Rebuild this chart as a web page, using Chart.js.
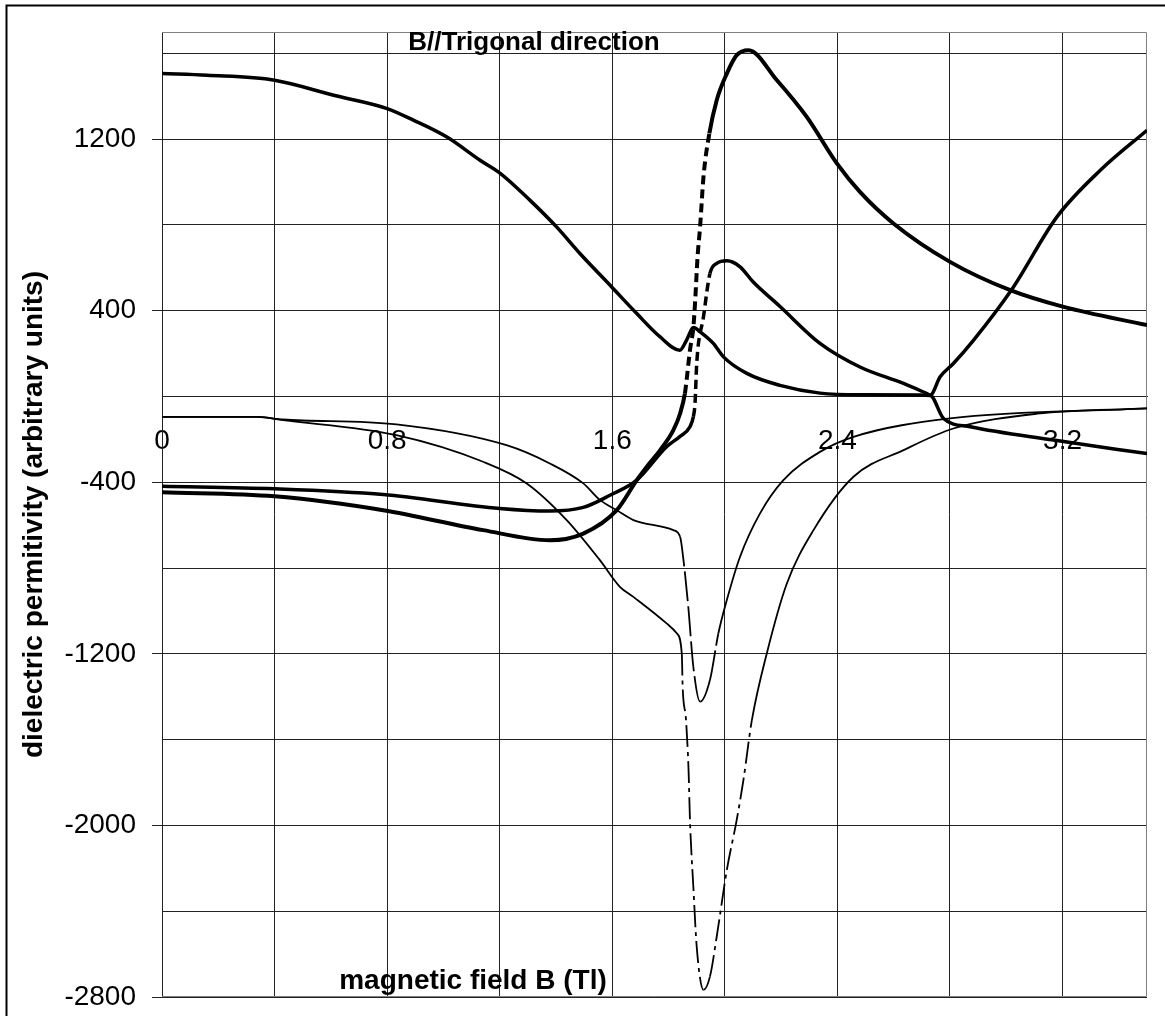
<!DOCTYPE html>
<html>
<head>
<meta charset="utf-8">
<script src="https://cdn.jsdelivr.net/npm/chart.js@4.4.1/dist/chart.umd.min.js"></script>
<style>
  html, body { margin: 0; padding: 0; background: #fff; overflow: hidden; }
  #wrap { position: relative; width: 1165px; height: 1016px; }
</style>
</head>
<body>
<div id="wrap"><canvas id="myChart"></canvas></div>
<script>
// values: magnetic field B (T) -> dielectric permittivity
const fieldA = [0, 0.16, 0.4, 0.61, 0.8, 0.893, 1.011, 1.13, 1.203, 1.307, 1.402, 1.485, 1.598, 1.687, 1.77, 1.84, 1.864, 1.888, 1.912, 1.959, 1.995, 2.078, 2.196, 2.338, 2.5, 2.694, 2.73, 2.777, 2.872, 3.168, 3.5];
const epsA = [1506, 1498, 1475, 1405, 1343, 1289, 1211, 1102, 1040, 916, 791, 667, 511, 387, 278, 216, 263, 322, 302, 248, 185, 108, 52, 16, 8, 7, 5, -102, -141, -203, -266];

const fieldB = [0, 0.4, 0.786, 1.141, 1.378, 1.497, 1.616, 1.687, 1.722, 1.77, 1.817, 1.841, 1.858, 1.864, 1.876, 1.888, 1.894, 1.903, 1.912, 1.924, 1.945, 1.971, 2.007, 2.042, 2.084, 2.185, 2.291, 2.398, 2.48, 2.599, 2.8, 3.014, 3.204, 3.5];
const epsB = [-446, -465, -530, -623, -670, -639, -530, -390, -328, -250, -157, -79, 14, 76, 216, 322, 434, 651, 791, 1024, 1227, 1382, 1506, 1592, 1615, 1475, 1304, 1087, 954, 807, 628, 496, 418, 333];

const fieldC = [0, 0.4, 0.786, 1.2, 1.378, 1.497, 1.592, 1.687, 1.793, 1.84, 1.876, 1.888, 1.894, 1.9, 1.924, 1.947, 1.971, 2.007, 2.054, 2.1, 2.196, 2.338, 2.48, 2.635, 2.718, 2.73, 2.765, 2.812, 2.884, 3.02, 3.18, 3.334, 3.5];
const epsC = [-418, -430, -457, -522, -534, -517, -460, -390, -234, -187, -141, -94, -32, 154, 372, 574, 621, 633, 605, 535, 420, 248, 138, 61, 14, 7, 92, 154, 263, 500, 838, 1055, 1242];

const fieldD = [0, 0.336, 0.43, 0.833, 1.224, 1.378, 1.497, 1.557, 1.616, 1.675, 1.817, 1.841, 1.853, 1.87, 1.888, 1.912, 1.947, 1.977, 2.007, 2.054, 2.125, 2.208, 2.338, 2.457, 2.8, 3.5];
const epsD = [-95, -95, -107, -130, -227, -312, -405, -483, -530, -576, -623, -654, -763, -980, -1260, -1423, -1322, -1104, -949, -747, -545, -390, -258, -188, -102, -55];

const fieldE = [0, 0.336, 0.43, 0.833, 1.141, 1.296, 1.438, 1.556, 1.627, 1.675, 1.793, 1.829, 1.847, 1.85, 1.862, 1.871, 1.876, 1.888, 1.9, 1.924, 1.947, 1.971, 2.007, 2.042, 2.066, 2.096, 2.149, 2.22, 2.315, 2.457, 2.635, 2.812, 3.109, 3.5];
const epsE = [-95, -95, -110, -180, -304, -405, -576, -763, -887, -934, -1058, -1104, -1198, -1353, -1509, -1742, -1975, -2286, -2566, -2767, -2705, -2519, -2208, -1975, -1788, -1509, -1198, -873, -623, -374, -250, -149, -80, -55];

const xTickLabels = ['0', '0.8', '1.6', '2.4', '3.2'];
const yTickLabels = [1200, 400, -400, -1200, -2000, -2800];
const yGridStep = 400;

const FONT = "'Liberation Sans', Arial, Helvetica, sans-serif";
Chart.defaults.font.family = FONT;
Chart.defaults.color = '#000';

function pts(xs, ys) {
    return xs.map((x, i) => ({ x: x, y: ys[i] }));
}

// steep parts of the traces look broken up in the original
const steep = ctx => Math.abs(ctx.p1.y - ctx.p0.y) > 5 * Math.abs(ctx.p1.x - ctx.p0.x);

function curve(xs, ys, width, dash) {
    return {
        data: pts(xs, ys),
        borderColor: '#000',
        borderWidth: width,
        pointRadius: 0,
        cubicInterpolationMode: 'monotone',
        segment: { borderDash: ctx => steep(ctx) ? dash : undefined }
    };
}

const frame = {
    id: 'frame',
    beforeDraw(chart) {
        const c = chart.ctx;
        c.save();
        c.fillStyle = '#fff';
        c.fillRect(0, 0, chart.width, chart.height);
        c.strokeStyle = '#000';
        c.lineWidth = 2;
        c.beginPath();
        c.moveTo(6.5, chart.height + 5);
        c.lineTo(6.5, 5.5);
        c.lineTo(chart.width + 5, 5.5);
        c.stroke();
        c.restore();
    },
    beforeDatasetsDraw(chart) {
        const a = chart.chartArea;
        const c = chart.ctx;
        c.save();
        c.strokeStyle = '#808080';
        c.lineWidth = 1;
        c.beginPath();
        c.moveTo(a.left, a.top + 0.5);
        c.lineTo(a.right - 0.5, a.top + 0.5);
        c.lineTo(a.right - 0.5, a.bottom - 0.5);
        c.lineTo(a.left, a.bottom - 0.5);
        c.stroke();
        c.restore();
    },
    afterDraw(chart) {
        const c = chart.ctx;
        c.save();
        c.fillStyle = '#000';
        c.textAlign = 'center';
        c.textBaseline = 'alphabetic';
        c.font = 'bold 26px ' + FONT;
        c.fillText('B//Trigonal direction', 534, 50);
        c.font = 'bold 28px ' + FONT;
        c.fillText('magnetic field B (Tl)', 473, 989);
        c.restore();
    }
};

const config = {
    type: 'line',
    data: {
        datasets: [
            curve(fieldA, epsA, 3.5, [9, 5]),
            curve(fieldB, epsB, 4, [9, 5]),
            curve(fieldC, epsC, 3.5, [9, 5]),
            curve(fieldD, epsD, 1.8, [30, 5]),
            curve(fieldE, epsE, 1.8, [22, 5, 4, 5])
        ]
    },
    options: {
        responsive: true,
        maintainAspectRatio: false,
        animation: false,
        layout: { padding: { left: 0, top: 32, right: 18, bottom: 19 } },
        plugins: {
            legend: { display: false },
            tooltip: { enabled: false }
        },
        scales: {
            x: {
                type: 'linear',
                position: { y: 0 },
                min: 0,
                max: 3.5,
                grid: { color: '#222', lineWidth: 1, drawTicks: false },
                border: { color: '#222', width: 1 },
                ticks: {
                    stepSize: 0.4,
                    maxTicksLimit: 30,
                    includeBounds: false,
                    autoSkip: false,
                    maxRotation: 0,
                    padding: 28,
                    font: { size: 28 },
                    callback: v => {
                        const s = String(+v.toFixed(1));
                        return xTickLabels.includes(s) ? s : '';
                    }
                }
            },
            y: {
                type: 'linear',
                min: -2800,
                max: 1700,
                afterFit: scale => {
                    scale.width = 162;
                    scale.paddingTop = 0;
                    scale.paddingBottom = 0;
                },
                // gridlines every 400 from the lowest label up to the top of the plot
                afterBuildTicks: scale => {
                    const t = [];
                    for (let v = yTickLabels[yTickLabels.length - 1]; v <= scale.max; v += yGridStep) t.push({ value: v });
                    scale.ticks = t;
                },
                grid: {
                    color: '#222',
                    lineWidth: 1,
                    tickLength: 10,
                    tickColor: ctx => yTickLabels.includes(ctx.tick && ctx.tick.value) ? '#222' : 'rgba(0,0,0,0)'
                },
                border: { color: '#222', width: 1 },
                ticks: {
                    autoSkip: false,
                    padding: 16,
                    font: { size: 28 },
                    callback: v => yTickLabels.includes(v) ? String(v) : ''
                },
                title: {
                    display: true,
                    text: 'dielectric permitivity (arbitrary units)',
                    font: { size: 28, weight: 'bold' },
                    padding: { top: 17, bottom: 0 }
                }
            }
        }
    },
    plugins: [frame]
};

const myChart = new Chart(document.getElementById('myChart'), config);
</script>
</body>
</html>
